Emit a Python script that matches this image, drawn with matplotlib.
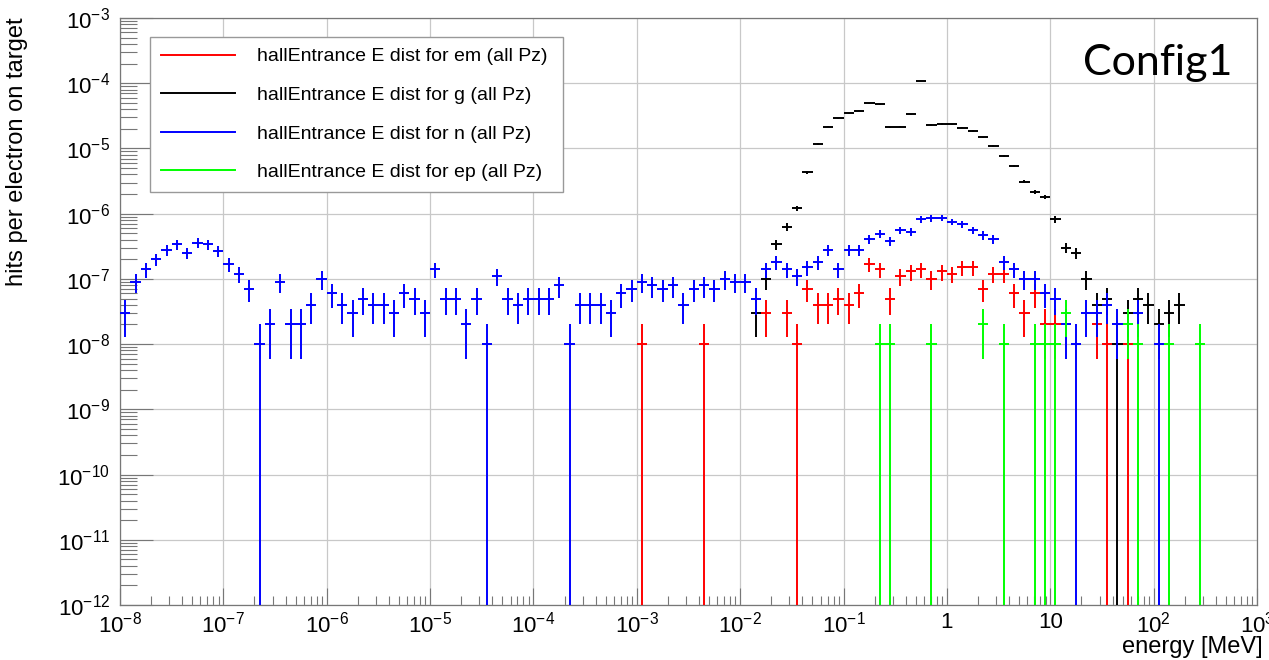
import numpy as np
import matplotlib
matplotlib.use('Agg')
import matplotlib.pyplot as plt
from matplotlib.lines import Line2D
from matplotlib.ticker import FixedLocator, FixedFormatter, LogLocator, NullFormatter

plt.rcParams['font.family'] = ['Liberation Sans', 'DejaVu Sans']
plt.rcParams['mathtext.fontset'] = 'custom'
plt.rcParams['mathtext.rm'] = 'Liberation Sans'
plt.rcParams['mathtext.default'] = 'regular'

# 110 log bins from 1e-8 to 1e3 MeV, one hit = 1e-8 per electron on target
n_bins = 110
hits_per_count = 1e-8

# hit counts per bin (bin index, counts)
em_bins = [50, 56, 62, 64, 65, 66, 67, 68, 69, 70, 71, 72, 73, 74, 75, 76, 77, 78, 79, 80,
           81, 82, 83, 84, 85, 86, 87, 88, 89, 90, 94, 95, 97]
em_hits = [1, 1, 3, 3, 1, 7, 4, 4, 5, 4, 6, 17, 14, 5, 11, 13, 14, 10, 13, 12,
           15, 15, 7, 12, 12, 6, 3, 6, 2, 2, 2, 1, 1]

g_bins = list(range(61, 103))
g_hits = [3, 10, 34, 63, 121, 430, 1160, 2150, 2900, 3460, 3790, 4920, 4750, 2110, 2150,
          3370, 10900, 2290, 2370, 2350, 2080, 1850, 1480, 1100, 766, 538, 309, 217, 182,
          82, 30, 25, 10, 4, 5, 1, 3, 5, 4, 2, 3, 4]

n_bins_hit = list(range(0, 101))
n_hits = [3, 9, 14, 20, 28, 34, 25, 36, 34, 27, 17, 12, 7, 1, 2, 9, 2, 2, 4, 10,
          6, 4, 3, 5, 4, 4, 3, 6, 5, 3, 14, 5, 5, 2, 5, 1, 11, 5, 4, 5,
          5, 5, 8, 1, 4, 4, 4, 3, 6, 7, 9, 8, 7, 8, 4, 7, 8, 7, 10, 9,
          9, 5, 14, 18, 14, 11, 15, 18, 28, 14, 28, 28, 41, 49, 38, 56, 53, 82, 85, 87,
          75, 69, 56, 47, 41, 18, 14, 10, 10, 6, 5, 2, 1, 3, 3, 4, 2, 0, 3, 0,
          1]

ep_bins = [73, 74, 78, 83, 85, 88, 89, 90, 91, 97, 98, 101, 104]
ep_hits = [1, 1, 1, 2, 1, 1, 1, 1, 3, 2, 1, 1, 1]

series = [
    ('hallEntrance E dist for em (all Pz)', em_bins, em_hits, '#ff0000'),
    ('hallEntrance E dist for g (all Pz)', g_bins, g_hits, '#000000'),
    ('hallEntrance E dist for n (all Pz)', n_bins_hit, n_hits, '#0000ff'),
    ('hallEntrance E dist for ep (all Pz)', ep_bins, ep_hits, '#00ff00'),
]

x_tick_values = [1e-8, 1e-7, 1e-6, 1e-5, 1e-4, 1e-3, 1e-2, 1e-1, 1, 10, 1e2, 1e3]
x_tick_labels = ['$10^{-8}$', '$10^{-7}$', '$10^{-6}$', '$10^{-5}$', '$10^{-4}$', '$10^{-3}$',
                 '$10^{-2}$', '$10^{-1}$', '1', '10', '$10^{2}$', '$10^{3}$']
y_tick_values = [1e-12, 1e-11, 1e-10, 1e-9, 1e-8, 1e-7, 1e-6, 1e-5, 1e-4, 1e-3]
y_tick_labels = ['$10^{-12}$', '$10^{-11}$', '$10^{-10}$', '$10^{-9}$', '$10^{-8}$',
                 '$10^{-7}$', '$10^{-6}$', '$10^{-5}$', '$10^{-4}$', '$10^{-3}$']

edges = np.logspace(-8, 3, n_bins + 1)
centers = np.sqrt(edges[:-1] * edges[1:])

fig = plt.figure(figsize=(12.69, 6.60), dpi=100)
ax = fig.add_axes([120 / 1269, 55 / 660, 1137 / 1269, 587 / 660])
ax.set_xscale('log')
ax.set_yscale('log')

for i, (label, bins, hits, color) in enumerate(series):
    bins = np.asarray(bins)
    hits = np.asarray(hits, dtype=float)
    keep = hits > 0
    bins, hits = bins[keep], hits[keep]
    x = centers[bins]
    y = hits * hits_per_count
    err = np.sqrt(hits) * hits_per_count
    lo = np.where(y - err > 0, err, y - 1e-15)
    ax.errorbar(x, y, xerr=[x - edges[bins], edges[bins + 1] - x], yerr=[lo, err],
                fmt='none', ecolor=color, elinewidth=1.4, capsize=0, zorder=3 + i)

ax.set_xlim(1e-8, 1e3)
ax.set_ylim(1e-12, 1e-3)

ax.xaxis.set_major_locator(FixedLocator(x_tick_values))
ax.xaxis.set_major_formatter(FixedFormatter(x_tick_labels))
ax.xaxis.set_minor_locator(LogLocator(base=10, subs=np.arange(2, 10), numticks=100))
ax.xaxis.set_minor_formatter(NullFormatter())
ax.yaxis.set_major_locator(FixedLocator(y_tick_values))
ax.yaxis.set_major_formatter(FixedFormatter(y_tick_labels))
ax.yaxis.set_minor_locator(LogLocator(base=10, subs=np.arange(2, 10), numticks=100))
ax.yaxis.set_minor_formatter(NullFormatter())

ax.tick_params(axis='x', which='major', direction='in', length=12, width=0.8,
               color='#777777', labelsize=16, pad=5)
ax.tick_params(axis='x', which='minor', direction='in', length=6.5, width=0.8, color='#777777')
ax.tick_params(axis='y', which='major', direction='in', length=24, width=0.8,
               color='#777777', labelsize=16, pad=7)
ax.tick_params(axis='y', which='minor', direction='in', length=12, width=0.8, color='#777777')

ax.grid(True, which='major', color='#c8c8c8', lw=0.9)
ax.set_axisbelow(True)
for s in ax.spines.values():
    s.set_color('#777777')
    s.set_linewidth(0.9)

fig.text(17 / 1269, 1 - 17 / 660, 'hits per electron on target', rotation=90,
         ha='center', va='top', fontsize=17)
fig.text(1263 / 1269, 7 / 660, 'energy [MeV]', ha='right', va='baseline', fontsize=17)
fig.text(1083 / 1269, 1 - 75 / 660, 'Config1', ha='left', va='baseline',
         fontsize=31, family='Lato')

handles = [Line2D([], [], color=c, lw=1.4) for _, _, _, c in series]
leg = ax.legend(handles, [s[0] for s in series], loc='upper left',
                bbox_to_anchor=(0.0264, 0.7036, 0.3632, 0.264), mode='expand',
                borderaxespad=0, fontsize=14, frameon=True, fancybox=False, framealpha=1,
                edgecolor='#999999', borderpad=0.55, labelspacing=1.08,
                handlelength=3.8, handletextpad=1.13)
leg.get_frame().set_linewidth(1.0)
leg.set_zorder(10)

fig.savefig('out.png', dpi=100)
